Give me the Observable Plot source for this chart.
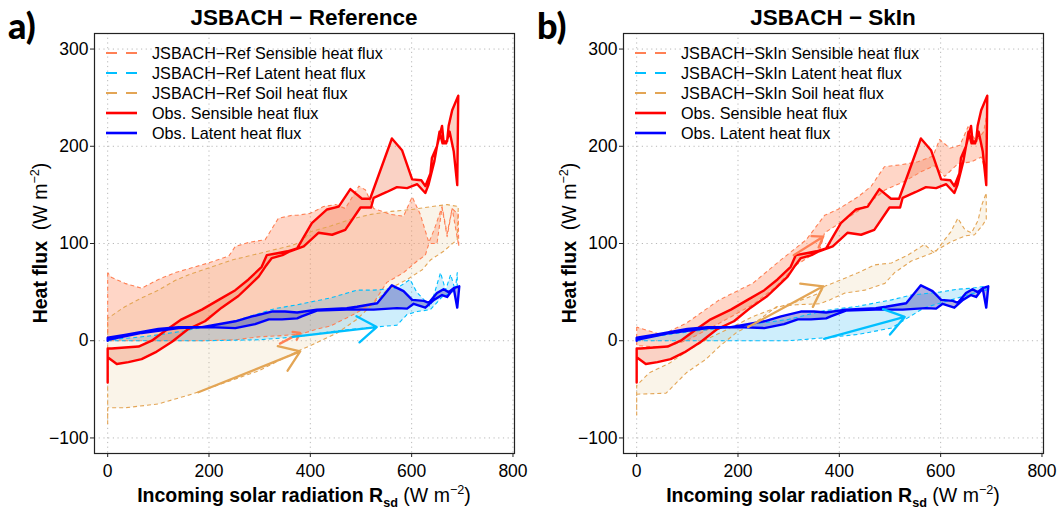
<!DOCTYPE html>
<html><head><meta charset="utf-8">
<script src="https://cdn.jsdelivr.net/npm/d3@7"></script>
<script src="https://cdn.jsdelivr.net/npm/@observablehq/plot@0.6"></script>
<style>
body{margin:0;background:#fff;}
#wrap{position:relative;width:1061px;height:510px;overflow:hidden;font-family:"Liberation Sans",Arial,sans-serif;}
.panel{position:absolute;top:0;width:530px;height:510px;}
.panel svg{position:absolute;left:0;top:0;}
.title{position:absolute;top:5px;left:94px;width:420px;text-align:center;font-weight:bold;font-size:22.5px;}
.letter{position:absolute;left:8px;top:3px;font-family:Lato,"Open Sans",sans-serif;font-weight:900;font-size:36px;}
.xlab{position:absolute;top:483px;left:94px;width:420px;text-align:center;font-size:19.5px;white-space:nowrap;}
.ylab{position:absolute;left:40px;top:243px;transform:translate(-50%,-50%) rotate(-90deg);font-size:19.5px;white-space:nowrap;}
.leg{position:absolute;left:105px;top:43px;font-size:16.2px;line-height:20px;}
.leg div{height:20px;display:flex;align-items:center;}
.leg svg{position:static;margin-right:14px;}
sup,sub{font-size:65%;}
</style>
</head><body>
<div id="wrap"></div>
<script>
// ---------- DATA ----------
const xTicks = [0, 200, 400, 600, 800];
const yTicks = [-100, 0, 100, 200, 300];
const panelTitles = ["JSBACH \u2212 Reference", "JSBACH \u2212 SkIn"];
const panelLetters = ["a)", "b)"];
const modelNames = ["JSBACH\u2212Ref", "JSBACH\u2212SkIn"];
const fluxNames = ["Sensible heat flux", "Latent heat flux", "Soil heat flux"];

// Observed sensible heat flux loop (both panels)
const obsSH_x = [0,0,8,34,61,87,113,146,186,219,252,278,304,314,335,355,374,403,433,456,479,502,518,561,581,601,619,627,637,640,650,660,663,670,673,680,692,690,683,675,668,661,655,645,633,627,611,591,571,551,525,520,499,469,443,416,387,360,345,324,311,298,278,258,225,192,159,127,94,67,41,18,0,0];
const obsSH_y = [-43,-8,-8,-7,-6,0,10,22,32,42,52,63,76,88,90,92,95,121,135,138,156,146,146,208,196,166,165,159,172,188,200,221,205,205,221,237,252,160,195,215,203,203,215,185,160,152,161,157,158,153,147,137,137,114,109,111,97,92,88,85,76,66,56,46,34,20,12,-1,-12,-19,-22,-24,-17,-43];
// Observed latent heat flux loop (both panels)
const obsLE_x = [0,0,34,67,100,140,186,219,252,285,324,350,374,413,472,492,532,561,584,601,624,634,650,663,673,683,694,690,683,670,660,644,627,604,591,571,525,472,413,383,374,344,318,291,252,199,140,67,0];
const obsLE_y = [0,3,6,9,12,14,14,17,20,25,30,30,29,32,33.5,35,38.5,57,51,42,41,39,49,53,50,54,56,34,54,45,47,42,34,38,33,33.5,32,32,31,25,23,22,22,17,13,14,13,8,1];

// JSBACH-Ref (panel a)
const refSH_x = [0,0,100,186,252,298,337,383,413,439,466,489,525,551,584,611,627,634,650,660,670,680,693,692,680,670,660,645,634,617,601,584,558,525,509,496,469,450,426,400,374,364,337,311,278,252,239,199,166,133,100,67,34,8,0];
const refSH_y = [70,0,0,0,1,4,5,7,12,15,22,28,39,60,70,82,88,100,100,137,107,136,97,130,136,110,138,115,101,130,148,128,130,136,155,159,136,140,138,131,129,129,126,104,101,97,87,80,75,70,63,54,59,65,70];
const refLE_x = [0,100,200,300,373,450,525,571,591,611,637,660,680,690,690,686,677,667,657,637,610,597,571,525,492,440,374,330,280,250,200,150,100,50,0];
const refLE_y = [0,0,0,1,4,10,14,16,27,30,32,45,50,55,70,52,68,52,70,35,50,63,54,52,52,44,37,33,25,20,15,10,6,3,1];
const refG_x = [0,0,34,100,166,232,298,374,413,453,492,551,591,621,637,663,690,692,670,640,600,560,520,480,440,400,383,364,324,285,245,206,166,133,100,67,34,0,0];
const refG_y = [-86,-69,-69,-65,-55,-43,-31,-11,-2,8,22,52,63,73,83,92,104,138,140,138,135,133,130,125,118,112,102,98,93,88,83,76,69,62,52,44,35,23,-86];

// JSBACH-SkIn (panel b)
const skSH_x = [0,0,52,98,163,229,276,315,361,371,410,450,490,529,562,588,608,634,661,680,690,690,685,670,654,638,618,598,585,555,522,489,463,437,397,371,335,282,229,163,98,50,0];
const skSH_y = [14,-5,-7,0,18,37,56,78,93,111,124,138,155,164,174,180,169,182,184,189,172,230,215,205,220,201,198,207,190,184,181,179,159,148,135,129,104,82,59,42,18,6,14];
const skLE_x = [0,100,200,300,371,437,503,535,568,588,621,660,690,687,661,634,598,542,503,437,371,300,200,100,0];
const skLE_y = [0,0,0,0,3,6.5,13,23.5,34,37,42,48,52,56,54,53,50,47,42,35.5,31,22,15,9,2];
const skG_x = [0,0,58,98,137,163,196,243,276,315,361,381,411,450,490,509,542,582,621,650,667,683,690,690,680,674,661,648,634,620,608,588,568,535,503,470,437,400,371,361,315,276,230,184,144,104,65,25,0,0];
const skG_y = [-77,-55,-54,-33,-19,-6,8,22,35,37,38,42,49,52,59,70,82,90,102,108,109,119,125,152,138,124,111,114,126,112,104,90,99,88,80,78,70,62,56,49,40,34,25,13,3,-9,-23,-33,-46,-77];

// Direction arrows per flux (sensible, latent, soil)
const refArrows_x1 = [340, 365, 179];
const refArrows_y1 = [-3, 4, -53];
const refArrows_x2 = [380, 531, 380];
const refArrows_y2 = [8, 14, -11];
const skArrows_x1 = [310, 370, 220];
const skArrows_y1 = [88, 2, 14];
const skArrows_x2 = [368, 529, 368];
const skArrows_y2 = [107, 24.5, 56];

// ---------- STYLE ----------
const C = {
  obsSH: "#ff0000", obsLE: "#0000ff",
  modSH: "#ff8055", modLE: "#00bfff", modG: "#e3a555",
  fillModSH: "#ff7f50", fillModLE: "#20b0f0", fillModG: "#e8c890",
  fillObsSH: "#f06a40", fillObsLE: "#3a3aa8"
};
const rows = (xs, ys) => xs.map((x, i) => ({x, y: ys[i]}));
const fmt = d => d < 0 ? "\u2212" + Math.abs(d) : String(d);

function makePanel(idx, SH, LE, G, arrows) {
  const obsSH = rows(obsSH_x, obsSH_y);
  const obsLE = rows(obsLE_x, obsLE_y);
  const arr = arrows.x1.map((x1, i) => ({x1, y1: arrows.y1[i], x2: arrows.x2[i], y2: arrows.y2[i], c: [C.modSH, C.modLE, C.modG][i]}));
  const dash = {strokeWidth: 1.1, strokeDasharray: "4,3", strokeLinecap: "butt"};
  return Plot.plot({
    width: 530, height: 510,
    marginLeft: 94, marginRight: 16, marginTop: 33, marginBottom: 57,
    x: {domain: [-26, 803]},
    y: {domain: [-116, 316]},
    style: {fontFamily: "'Liberation Sans', Arial, sans-serif", fontSize: "17px", color: "#000", background: "transparent", overflow: "visible"},
    marks: [
      Plot.gridX(xTicks, {stroke: "#b8b8b8", strokeOpacity: 1, strokeDasharray: "1.2,3.5"}),
      Plot.gridY(yTicks, {stroke: "#b8b8b8", strokeOpacity: 1, strokeDasharray: "1.2,3.5"}),
      Plot.line(G, {x: "x", y: "y", fill: C.fillModG, fillOpacity: 0.2, stroke: "none"}),
      Plot.line(SH, {x: "x", y: "y", fill: C.fillModSH, fillOpacity: 0.32, stroke: "none"}),
      Plot.line(LE, {x: "x", y: "y", fill: C.fillModLE, fillOpacity: 0.22, stroke: "none"}),
      Plot.line(obsSH, {x: "x", y: "y", fill: C.fillObsSH, fillOpacity: 0.3, stroke: "none"}),
      Plot.line(obsLE, {x: "x", y: "y", fill: C.fillObsLE, fillOpacity: 0.38, stroke: "none"}),
      Plot.line(G, {x: "x", y: "y", stroke: C.modG, ...dash}),
      Plot.line(SH, {x: "x", y: "y", stroke: C.modSH, ...dash}),
      Plot.line(LE, {x: "x", y: "y", stroke: C.modLE, ...dash}),
      Plot.line(obsSH, {x: "x", y: "y", stroke: C.obsSH, strokeWidth: 2.4}),
      Plot.line(obsLE, {x: "x", y: "y", stroke: C.obsLE, strokeWidth: 2.4}),
      Plot.arrow(arr, {x1: "x1", y1: "y1", x2: "x2", y2: "y2", stroke: d => d.c, strokeWidth: 2.3, headLength: 15, headAngle: 70}),
      Plot.frame({stroke: "#222", strokeWidth: 1.2}),
      Plot.axisX(xTicks, {tickSize: 4, tickPadding: 7, label: null, tickFormat: fmt, stroke: "#222", fontSize: 17.5}),
      Plot.axisY(yTicks, {tickSize: 4, tickPadding: 2, label: null, tickFormat: fmt, stroke: "#222", fontSize: 17.5})
    ]
  });
}

function legendLine(color, dashed) {
  return `<svg width="33" height="6"><line x1="1" y1="3" x2="32" y2="3" stroke="${color}" stroke-width="${dashed ? 2.2 : 2.6}" ${dashed ? 'stroke-dasharray="11,9"' : ''}/></svg>`;
}

const wrap = document.getElementById("wrap");
const panels = [
  {SH: rows(refSH_x, refSH_y), LE: rows(refLE_x, refLE_y), G: rows(refG_x, refG_y),
   arrows: {x1: refArrows_x1, y1: refArrows_y1, x2: refArrows_x2, y2: refArrows_y2}},
  {SH: rows(skSH_x, skSH_y), LE: rows(skLE_x, skLE_y), G: rows(skG_x, skG_y),
   arrows: {x1: skArrows_x1, y1: skArrows_y1, x2: skArrows_x2, y2: skArrows_y2}}
];
panels.forEach((p, i) => {
  const div = document.createElement("div");
  div.className = "panel";
  div.style.left = (i * 529) + "px";
  div.appendChild(makePanel(i, p.SH, p.LE, p.G, p.arrows));
  const m = modelNames[i];
  div.insertAdjacentHTML("beforeend", `
    <div class="title">${panelTitles[i]}</div>
    <div class="letter">${panelLetters[i]}</div>
    <div class="xlab"><b>Incoming solar radiation R<sub>sd</sub></b> (W m<sup>\u22122</sup>)</div>
    <div class="ylab"><b>Heat flux</b> &nbsp;(W m<sup>\u22122</sup>)</div>
    <div class="leg">
      <div>${legendLine(C.modSH, true)}${m} ${fluxNames[0]}</div>
      <div>${legendLine(C.modLE, true)}${m} ${fluxNames[1]}</div>
      <div>${legendLine(C.modG, true)}${m} ${fluxNames[2]}</div>
      <div>${legendLine(C.obsSH, false)}Obs. ${fluxNames[0]}</div>
      <div>${legendLine(C.obsLE, false)}Obs. ${fluxNames[1]}</div>
    </div>`);
  wrap.appendChild(div);
});
</script>
</body></html>
